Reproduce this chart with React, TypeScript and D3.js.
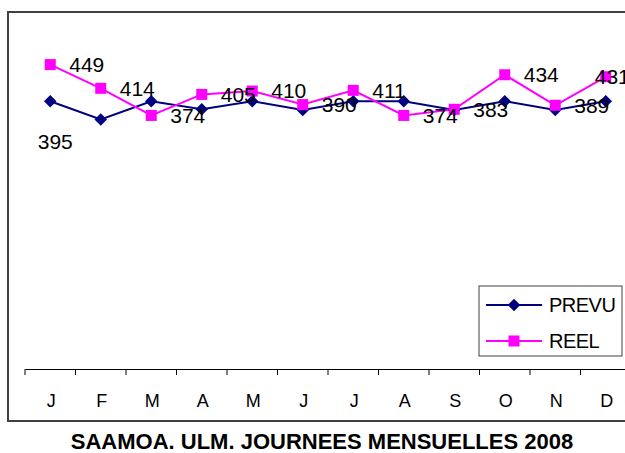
import React, { useRef, useEffect } from "react";
import * as d3 from "d3";

// month initials, prevision and real values (ULM days 2008)
const months = ["J", "F", "M", "A", "M", "J", "J", "A", "S", "O", "N", "D"];
const prevu = [395, 368, 395, 383, 395, 382, 395, 395, 382, 395, 382, 395];
const reel = [449, 414, 374, 405, 410, 390, 411, 374, 383, 434, 389, 431];
const seriesNames = ["PREVU", "REEL"];
const title = "SAAMOA. ULM. JOURNEES MENSUELLES 2008";

const W = 625;
const H = 453;
const FONT = "Arial, 'Liberation Sans', sans-serif";

const App = () => {
    const svgRef = useRef<SVGSVGElement>(null);

    useEffect(() => {
        const svg = d3.select(svgRef.current);
        svg.selectAll("*").remove();

        const margin = { top: 30, right: -6, bottom: 84, left: 25 };

        const x = d3.scaleBand<number>()
            .domain(months.map((_, i) => i))
            .range([margin.left, W - margin.right])
            .paddingInner(0)
            .paddingOuter(0);

        const y = d3.scaleLinear()
            .domain([0, 500])
            .range([H - margin.bottom, margin.top]);

        const cx = (i: number) => (x(i) as number) + x.bandwidth() / 2;

        // background + chart frame
        svg.append("rect").attr("width", W).attr("height", H).attr("fill", "#ffffff");
        svg.append("rect")
            .attr("x", 8).attr("y", 12)
            .attr("width", 640).attr("height", 409)
            .attr("fill", "none")
            .attr("stroke", "#404040")
            .attr("stroke-width", 2);

        // category axis
        const axis = svg.append("g")
            .attr("transform", `translate(0,${y(0)})`)
            .call(d3.axisBottom(x).tickSize(0).tickFormat((i) => months[i as number]));
        axis.select(".domain").attr("stroke", "#000").attr("stroke-width", 1);
        axis.selectAll("text")
            .attr("dy", 0)
            .attr("y", 38)
            .attr("dx", 1)
            .attr("fill", "#000")
            .style("font-family", FONT)
            .style("font-size", "18px");

        // tick marks at category boundaries
        const bounds = d3.range(months.length + 1).map((i) => margin.left + i * x.bandwidth());
        svg.append("g").selectAll("line")
            .data(bounds)
            .enter()
            .append("line")
            .attr("x1", (d) => d).attr("x2", (d) => d)
            .attr("y1", y(0)).attr("y2", y(0) + 6)
            .attr("stroke", "#000").attr("stroke-width", 1);

        const line = d3.line<number>()
            .x((_, i) => cx(i))
            .y((d) => y(d));

        // PREVU series
        svg.append("path")
            .datum(prevu)
            .attr("d", line)
            .attr("fill", "none")
            .attr("stroke", "#000080")
            .attr("stroke-width", 2);

        // REEL series
        svg.append("path")
            .datum(reel)
            .attr("d", line)
            .attr("fill", "none")
            .attr("stroke", "#ff00ff")
            .attr("stroke-width", 2);

        const diamond = d3.symbol().type(d3.symbolDiamond2).size(100);

        svg.append("g").selectAll("path")
            .data(prevu)
            .enter()
            .append("path")
            .attr("d", diamond)
            .attr("transform", (d, i) => `translate(${cx(i)},${y(d)})`)
            .attr("fill", "#000080");

        svg.append("g").selectAll("rect")
            .data(reel)
            .enter()
            .append("rect")
            .attr("x", (_, i) => cx(i) - 5.5)
            .attr("y", (d) => y(d) - 5.5)
            .attr("width", 11).attr("height", 11)
            .attr("fill", "#ff00ff");

        // data labels (the last one is pushed left, as in the original)
        const last = reel.length - 1;
        svg.append("g").selectAll("text")
            .data(reel)
            .enter()
            .append("text")
            .attr("x", (_, i) => (i === last ? cx(i) - 11 : cx(i) + 19))
            .attr("y", (d) => y(d))
            .attr("dy", "0.35em")
            .attr("fill", "#000")
            .style("font-family", FONT)
            .style("font-size", "21px")
            .text((d) => d);

        svg.append("text")
            .attr("x", cx(0) + 5)
            .attr("y", y(prevu[0]) + 40)
            .attr("dy", "0.35em")
            .attr("text-anchor", "middle")
            .attr("fill", "#000")
            .style("font-family", FONT)
            .style("font-size", "21px")
            .text(prevu[0]);

        // legend
        const lg = svg.append("g").attr("transform", "translate(479,286)");
        lg.append("rect")
            .attr("width", 143).attr("height", 70)
            .attr("fill", "#fff")
            .attr("stroke", "#404040")
            .attr("stroke-width", 1);
        const colors = ["#000080", "#ff00ff"];
        seriesNames.forEach((name, k) => {
            const ly = 19 + k * 36;
            lg.append("line")
                .attr("x1", 7).attr("x2", 63)
                .attr("y1", ly).attr("y2", ly)
                .attr("stroke", colors[k]).attr("stroke-width", 2);
            if (k === 0) {
                lg.append("path")
                    .attr("d", diamond)
                    .attr("transform", `translate(35,${ly})`)
                    .attr("fill", colors[k]);
            } else {
                lg.append("rect")
                    .attr("x", 29.5).attr("y", ly - 5.5)
                    .attr("width", 11).attr("height", 11)
                    .attr("fill", colors[k]);
            }
            lg.append("text")
                .attr("x", 70).attr("y", ly)
                .attr("dy", "0.35em")
                .attr("fill", "#000")
                .style("font-family", FONT)
                .style("font-size", "20px")
                .style("letter-spacing", "-0.5px")
                .text(name);
        });

        // title
        svg.append("text")
            .attr("x", 322)
            .attr("y", 449)
            .attr("text-anchor", "middle")
            .attr("fill", "#000")
            .style("font-family", FONT)
            .style("font-size", "22px")
            .style("font-weight", "bold")
            .text(title);
    }, []);

    return (
        <svg
            ref={svgRef}
            width={W}
            height={H}
            style={{ position: "absolute", left: 0, top: 0, display: "block" }}
        ></svg>
    );
};

export default App;
